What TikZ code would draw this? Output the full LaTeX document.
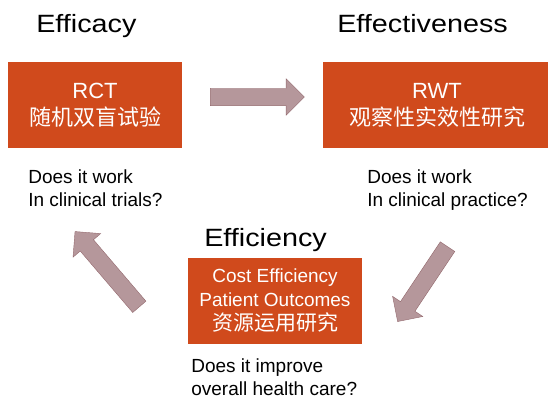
\documentclass[tikz,border=0pt]{standalone}
\usepackage{fontspec}
\setmainfont{Liberation Sans}
\newfontfamily\titlefont[FakeStretch=1.15]{Liberation Sans}
\newfontfamily\cjk{Noto Sans CJK SC}
\usepackage{xcolor}
\usepackage{tikz}
\usetikzlibrary{shapes.arrows}
\usetikzlibrary{positioning}
\definecolor{boxred}{HTML}{D04A1C}
\definecolor{arrowfill}{HTML}{B5979B}
\definecolor{arrowline}{HTML}{93686D}

\begin{document}
\begin{tikzpicture}[x=1pt,y=-1pt, semithick]
	\tikzstyle{studybox}=[fill=boxred, draw=none, text=white, inner sep=0pt, minimum height=86pt, align=center]
	\tikzstyle{title}=[anchor=base west, inner sep=0pt, font=\titlefont\fontsize{25}{30}\selectfont]
	\tikzstyle{question}=[anchor=base west, inner sep=0pt, align=left, font=\fontsize{19}{23}\selectfont]
	\tikzstyle{blockarrow}=[single arrow, fill=arrowfill, draw=arrowline, thin, inner xsep=0pt, inner ysep=8.5pt,
		single arrow head extend=9.5pt, single arrow head indent=0pt]
	\useasboundingbox (0,0) rectangle (548,398);

	\node[title] (efficacy) at (36,33) {Efficacy};
	\node[title] (effectiveness) at (337,33) {Effectiveness};
	\node[title] (efficiency) at (204,246) {Efficiency};

	\node[studybox, minimum width=174pt, font=\fontsize{22}{27}\selectfont] (rct) at (95,105) {RCT\\{\cjk 随机双盲试验}};
	\node[studybox, minimum width=228pt, font=\fontsize{22}{27}\selectfont] (rwt) at (437,105) {RWT\\{\cjk 观察性实效性研究}};
	\node[studybox, minimum width=174pt, font=\fontsize{19}{24}\selectfont] (cost) at (275,301) {Cost Efficiency\\Patient Outcomes\\{\cjk\fontsize{21}{24}\selectfont 资源运用研究}};

	\node[question] (q1) at (28,206) {Does it work\\In clinical trials?};
	\node[question] (q2) at (367,206) {Does it work\\In clinical practice?};
	\node[question] (q3) at (191,395) {Does it improve\\overall health care?};

	\node[blockarrow, minimum height=94pt] (a1) at (253,97) {};
	\node[blockarrow, minimum height=90pt, rotate=236.3] (a2) at (425,280.5) {};
	\node[blockarrow, minimum height=99pt, rotate=130.5] (a3) at (110,272.5) {};

\end{tikzpicture}
\end{document}
